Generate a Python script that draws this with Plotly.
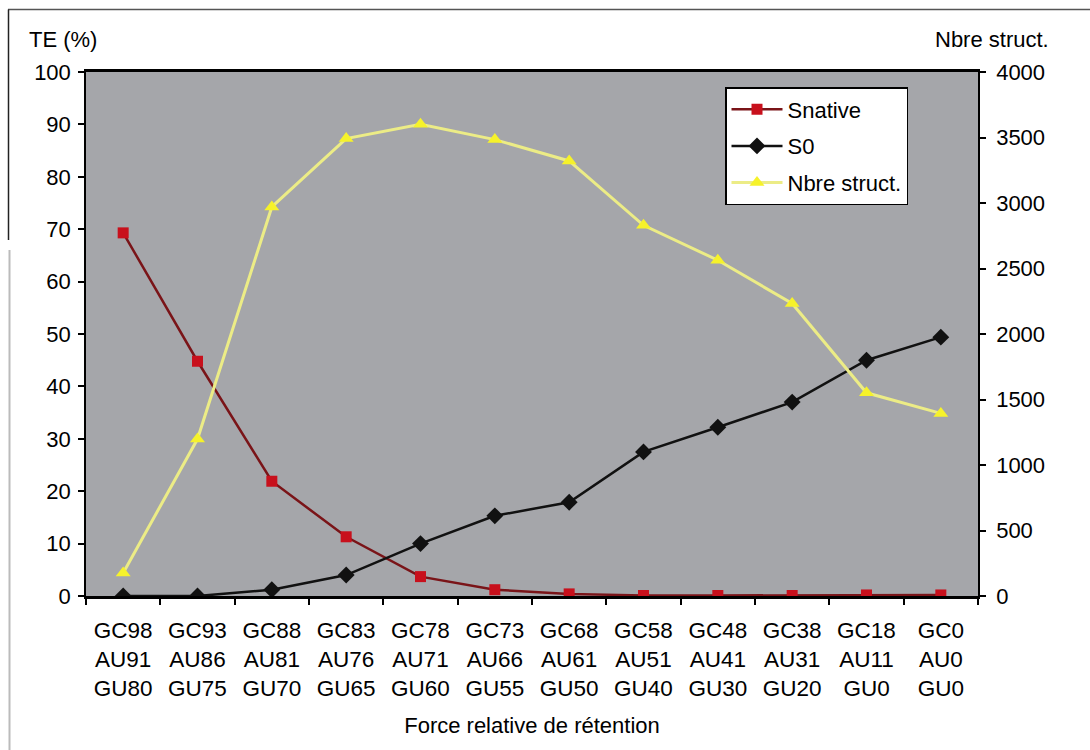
import plotly.graph_objects as go

categories = ["GC98<br>AU91<br>GU80", "GC93<br>AU86<br>GU75", "GC88<br>AU81<br>GU70",
              "GC83<br>AU76<br>GU65", "GC78<br>AU71<br>GU60", "GC73<br>AU66<br>GU55",
              "GC68<br>AU61<br>GU50", "GC58<br>AU51<br>GU40", "GC48<br>AU41<br>GU30",
              "GC38<br>AU31<br>GU20", "GC18<br>AU11<br>GU0", "GC0<br>AU0<br>GU0"]
snative = [69.3, 44.8, 21.9, 11.3, 3.7, 1.2, 0.4, 0.1, 0.1, 0.1, 0.2, 0.2]
s0 = [0.0, 0.0, 1.2, 4.0, 10.0, 15.3, 17.9, 27.5, 32.2, 37.0, 45.0, 49.4]
nbre = [175, 1198, 2970, 3492, 3601, 3484, 3321, 2830, 2563, 2233, 1551, 1394]

FONT = "Arial, Liberation Sans, sans-serif"
L, R, T, B = 86, 978, 72, 596
W, H = 1090, 750


def px(x):
    return (x - L) / (R - L)


def py(y):
    return (B - y) / (B - T)


fig = go.Figure()
fig.add_trace(go.Scatter(
    x=categories, y=snative, name="Snative", mode="lines+markers",
    line=dict(color="#7a1418", width=2.5),
    marker=dict(symbol="square", size=11, color="#c8101c", line=dict(width=0)),
    legendgroup="a"))
fig.add_trace(go.Scatter(
    x=categories, y=s0, name="S0", mode="lines+markers",
    line=dict(color="#111111", width=2.5),
    marker=dict(symbol="diamond", size=13, color="#111111", line=dict(width=0)),
    legendgroup="b"))
fig.add_trace(go.Scatter(
    x=categories, y=nbre, name="Nbre struct.", mode="lines+markers", yaxis="y2",
    line=dict(color="#ecec86", width=3),
    marker=dict(symbol="triangle-up", size=13, color="#f6f22a", line=dict(width=0)),
    legendgroup="c"))

fig.update_layout(
    width=W, height=H,
    margin=dict(l=L, r=W - R, t=T, b=H - B),
    paper_bgcolor="white",
    plot_bgcolor="#a5a6aa",
    font=dict(family=FONT, size=22, color="black"),
    xaxis=dict(
        type="category", range=[-0.5, 11.5], tickson="boundaries",
        ticks="outside", ticklen=6, tickwidth=1.5, tickcolor="black",
        showline=True, linecolor="black", linewidth=2.5, mirror=True,
        showgrid=False, zeroline=False, ticklabelstandoff=12,
        tickfont=dict(family=FONT, size=22.5),
        title=dict(text="Force relative de rétention", font=dict(family=FONT, size=22), standoff=18),
    ),
    yaxis=dict(
        range=[0, 100], dtick=10, ticks="outside", ticklen=6, tickwidth=1.5,
        tickcolor="black", showline=True, linecolor="black", linewidth=1.5,
        showgrid=False, zeroline=False, ticklabelstandoff=3,
        tickfont=dict(family=FONT, size=22),
    ),
    yaxis2=dict(
        range=[0, 4000], dtick=500, overlaying="y", side="right",
        ticks="outside", ticklen=6, tickwidth=1.5, tickcolor="black",
        showline=True, linecolor="black", linewidth=1.5,
        showgrid=False, zeroline=False, ticklabelstandoff=6,
        tickfont=dict(family=FONT, size=22),
    ),
    legend=dict(
        x=px(725), y=py(87), xanchor="left", yanchor="top",
        bgcolor="white", bordercolor="black", borderwidth=1.5,
        font=dict(family=FONT, size=22), traceorder="grouped",
        tracegroupgap=5, itemwidth=51,
    ),
    showlegend=True,
    annotations=[
        dict(text="TE (%)", x=px(63), y=py(40), xref="paper", yref="paper",
             showarrow=False, xanchor="center", yanchor="middle",
             font=dict(family=FONT, size=22)),
        dict(text="Nbre struct.", x=px(992), y=py(40), xref="paper", yref="paper",
             showarrow=False, xanchor="center", yanchor="middle",
             font=dict(family=FONT, size=22)),
    ],
    shapes=[
        dict(type="line", xref="paper", yref="paper", x0=px(8), x1=px(1090),
             y0=py(9.5), y1=py(9.5), line=dict(color="#555555", width=1.5)),
        dict(type="line", xref="paper", yref="paper", x0=px(8.5), x1=px(8.5),
             y0=py(9.5), y1=py(240), line=dict(color="#222222", width=1.5)),
        dict(type="line", xref="paper", yref="paper", x0=px(9.5), x1=px(9.5),
             y0=py(250), y1=py(750), line=dict(color="#bbbbbb", width=2)),
    ],
)

fig.write_html("out.html")
